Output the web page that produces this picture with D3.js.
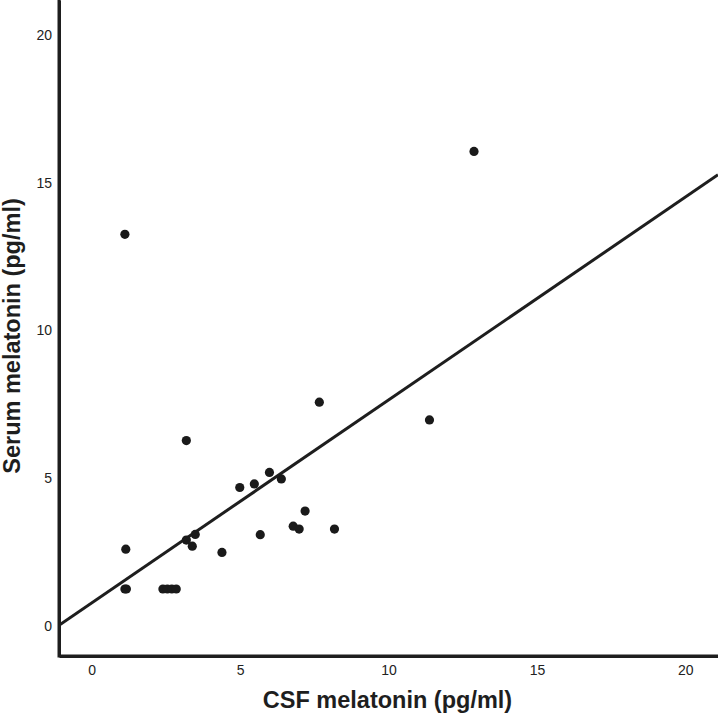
<!DOCTYPE html>
<html>
<head>
<meta charset="utf-8">
<script src="https://cdn.jsdelivr.net/npm/d3@7"></script>
<style>
  html, body { margin: 0; padding: 0; background: #fff; }
  svg { display: block; }
</style>
</head>
<body>
<svg id="chart" width="718" height="722"></svg>
<script>
// CSF melatonin (x) vs serum melatonin (y), pg/ml
const csf = [1.15, 1.12, 1.17, 2.4, 2.55, 2.7, 2.85, 3.19, 3.19, 3.49, 3.39, 4.39, 4.99, 5.48, 5.99, 6.39, 5.68, 6.79, 6.99, 7.19, 8.18, 7.67, 11.38, 12.88, 1.12];
const serum = [2.59, 1.24, 1.24, 1.24, 1.24, 1.24, 1.24, 6.27, 2.90, 3.09, 2.69, 2.48, 4.68, 4.80, 5.19, 4.97, 3.08, 3.37, 3.27, 3.88, 3.27, 7.57, 6.97, 16.07, 13.26];
const xTicks = [0, 5, 10, 15, 20];
const yTicks = [0, 5, 10, 15, 20];
const fitIntercept = 0.77;
const fitSlope = 0.6875;
const xTitle = "CSF melatonin (pg/ml)";
const yTitle = "Serum melatonin (pg/ml)";

const svg = d3.select("#chart");
const x = d3.scaleLinear().domain([-1.1, 21.1]).range([59, 718]);
const y = d3.scaleLinear().domain([-1.03, 21.2]).range([656, 0]);

// fit line (clipped to plot area)
svg.append("defs").append("clipPath").attr("id", "plot")
  .append("rect").attr("x", 59).attr("y", 0).attr("width", 659).attr("height", 656);

const xd = x.domain();
svg.append("line")
  .attr("clip-path", "url(#plot)")
  .attr("x1", x(xd[0])).attr("y1", y(fitIntercept + fitSlope * xd[0]))
  .attr("x2", x(xd[1])).attr("y2", y(fitIntercept + fitSlope * xd[1]))
  .attr("stroke", "#1e1e1e").attr("stroke-width", 3);

// points
svg.append("g").selectAll("circle")
  .data(csf.map((v, i) => [v, serum[i]]))
  .join("circle")
  .attr("cx", d => x(d[0])).attr("cy", d => y(d[1]))
  .attr("r", 4.6).attr("fill", "#1a1a1a");

// axes
const fontFam = "'Liberation Sans', Arial, Helvetica, sans-serif";
const gx = svg.append("g").attr("transform", "translate(0,656)")
  .call(d3.axisBottom(x).tickValues(xTicks).tickSize(0).tickPadding(9).tickFormat(d3.format("d")));
const gy = svg.append("g").attr("transform", "translate(59,0)")
  .call(d3.axisLeft(y).tickValues(yTicks).tickSize(0).tickPadding(7).tickFormat(d3.format("d")));
[gx, gy].forEach(g => {
  g.select(".domain").attr("stroke", "#1e1e1e").attr("stroke-width", 3);
  g.selectAll("text").attr("font-family", fontFam).attr("font-size", 14).attr("fill", "#222");
});

// corner join
svg.append("path")
  .attr("d", `M59,0 L59,656 L718,656`)
  .attr("fill", "none").attr("stroke", "#1e1e1e").attr("stroke-width", 3)
  .attr("stroke-linejoin", "miter");

// titles
svg.append("text")
  .attr("x", 387.5).attr("y", 708)
  .attr("text-anchor", "middle")
  .attr("font-family", fontFam).attr("font-weight", "bold").attr("font-size", 23.5)
  .attr("fill", "#1e1e1e")
  .text(xTitle);

svg.append("text")
  .attr("transform", "translate(19.5,336) rotate(-90)")
  .attr("text-anchor", "middle")
  .attr("font-family", fontFam).attr("font-weight", "bold").attr("font-size", 23.5)
  .attr("fill", "#1e1e1e")
  .text(yTitle);
</script>
</body>
</html>
